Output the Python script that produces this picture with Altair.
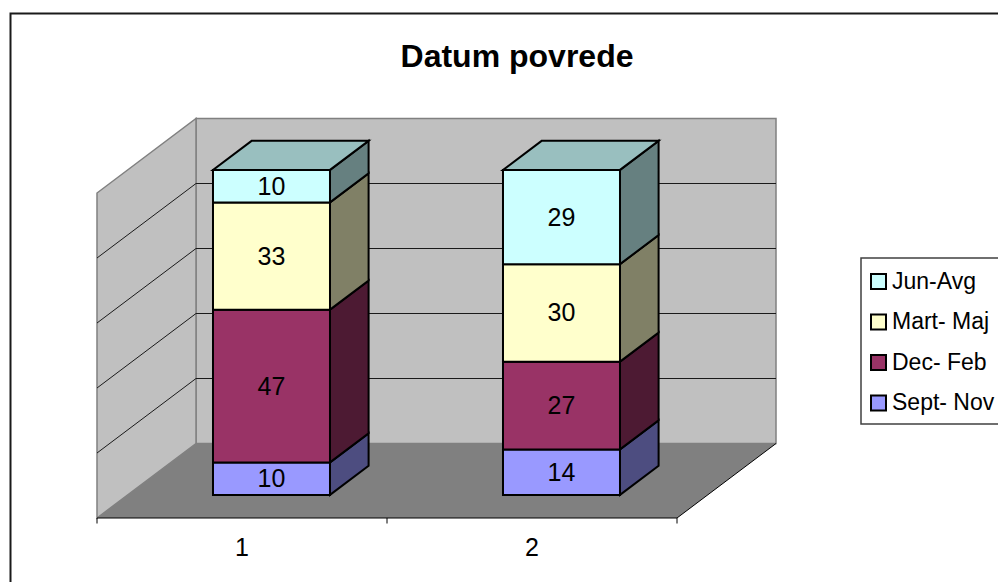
import altair as alt
import pandas as pd

# ---- data ----
categories = ["1", "2"]
series = ["Sept- Nov", "Dec- Feb", "Mart- Maj", "Jun-Avg"]
values = {
    "Sept- Nov": [10, 14],
    "Dec- Feb": [47, 27],
    "Mart- Maj": [33, 30],
    "Jun-Avg": [10, 29],
}
front_colors = {"Sept- Nov": "#9999FF", "Dec- Feb": "#993366", "Mart- Maj": "#FFFFCC", "Jun-Avg": "#CCFFFF"}
side_colors = {"Sept- Nov": "#4D4D80", "Dec- Feb": "#4D1A33", "Mart- Maj": "#808066", "Jun-Avg": "#668080"}
top_color = "#99BFBF"
grid_values = [20, 40, 60, 80]

FONT = "Liberation Sans"
W, H = 990, 574
PX_CAT = 290.0       # pixels per category
PX_VAL = 3.25        # pixels per value unit
DEPTH_X = 99 / PX_CAT   # full depth in category units
DEPTH_Y = 74.5 / PX_VAL # full depth in value units
HALF = 58.5 / PX_CAT    # half bar width in category units
D0, D1 = 0.31, 0.70     # bar depth range
BAR_SHIFT = -1.2 / PX_CAT


def X(c, d=0.0):
    return c + d * DEPTH_X


def Y(v, d=0.0):
    return v + d * DEPTH_Y


xs = alt.Scale(domain=[-89 / PX_CAT, (W - 89) / PX_CAT], range=[0, W], nice=False, zero=False)
ys = alt.Scale(domain=[(510 - H) / PX_VAL, 510 / PX_VAL], range=[H, 0], nice=False, zero=False)
ex = alt.X("x:Q", scale=xs, axis=None, title=None)
ey = alt.Y("y:Q", scale=ys, axis=None, title=None)


def rules(rows, color, width):
    return alt.Chart(pd.DataFrame(rows)).mark_rule(color=color, strokeWidth=width).encode(
        x=ex, x2="x2:Q", y=ey, y2="y2:Q", detail="id:N")


def line(i, x, y, x2, y2):
    return {"id": i, "x": x, "y": y, "x2": x2, "y2": y2}


# walls and floor
back = alt.Chart(pd.DataFrame([{"x": X(0, 1), "x2": X(2, 1), "y": Y(0, 1), "y2": Y(100, 1)}])).mark_rect(
    fill="#C0C0C0", stroke="#808080", strokeWidth=1.5).encode(x=ex, x2="x2:Q", y=ey, y2="y2:Q")
left = alt.Chart(pd.DataFrame([
    {"x": X(0, 0), "y": Y(0, 0), "y2": Y(100, 0)},
    {"x": X(0, 1), "y": Y(0, 1), "y2": Y(100, 1)},
])).mark_area(fill="#C0C0C0", stroke="#808080", strokeWidth=1.5).encode(x=ex, y=ey, y2="y2:Q")
floor = alt.Chart(pd.DataFrame([
    {"y": Y(0, 0), "x": X(0, 0), "x2": X(2, 0)},
    {"y": Y(0, 1), "x": X(0, 1), "x2": X(2, 1)},
])).mark_area(fill="#808080", orient="horizontal").encode(x=ex, x2="x2:Q", y=ey)

grid = rules(
    [line(f"b{v}", X(0, 1), Y(v, 1), X(2, 1), Y(v, 1)) for v in grid_values]
    + [line(f"l{v}", X(0, 0), Y(v, 0), X(0, 1), Y(v, 1)) for v in grid_values],
    "#1A1A1A", 1)

# axis drawn on the front edge of the floor
axis_rules = rules(
    [line("axis", X(0), Y(0), X(2), Y(0)), line("edge", X(2), Y(0), X(2, 1), Y(0, 1))]
    + [line(f"t{c}", X(c), Y(0), X(c), Y(-5.5 / PX_VAL)) for c in [0, 1, 2]],
    "#000000", 1)
axis_text = alt.Chart(pd.DataFrame({
    "x": [i + 0.5 for i in range(len(categories))],
    "y": [-30 / PX_VAL] * len(categories),
    "t": categories,
})).mark_text(font=FONT, fontSize=25, color="black", baseline="middle").encode(x=ex, y=ey, text="t:N")

# bars
front_rows, side_rows, top_rows, label_rows = [], [], [], []
for i in range(len(categories)):
    c = i + 0.5 + BAR_SHIFT
    base = 0
    for s in series:
        v = values[s][i]
        xl, xr = c - HALF, c + HALF
        front_rows.append({"series": s, "x": X(xl, D0), "x2": X(xr, D0), "y": Y(base, D0), "y2": Y(base + v, D0)})
        fid = f"{i}-{s}"
        side_rows.append({"id": fid, "fill": side_colors[s], "x": X(xr, D0), "y": Y(base, D0), "y2": Y(base + v, D0)})
        side_rows.append({"id": fid, "fill": side_colors[s], "x": X(xr, D1), "y": Y(base, D1), "y2": Y(base + v, D1)})
        label_rows.append({"x": X(c, D0), "y": Y(base + v / 2, D0), "t": str(v)})
        base += v
    top_rows.append({"id": str(i), "y": Y(base, D0), "x": X(c - HALF, D0), "x2": X(c + HALF, D0)})
    top_rows.append({"id": str(i), "y": Y(base, D1), "x": X(c - HALF, D1), "x2": X(c + HALF, D1)})

sides = alt.Chart(pd.DataFrame(side_rows)).mark_area(stroke="black", strokeWidth=2).encode(
    x=ex, y=ey, y2="y2:Q", fill=alt.Fill("fill:N", scale=None, legend=None), detail="id:N")
tops = alt.Chart(pd.DataFrame(top_rows)).mark_area(
    fill=top_color, stroke="black", strokeWidth=2, orient="horizontal").encode(
    x=ex, x2="x2:Q", y=ey, detail="id:N")

legend_order = list(reversed(series))
fronts = alt.Chart(pd.DataFrame(front_rows)).mark_rect(stroke="black", strokeWidth=2).encode(
    x=ex, x2="x2:Q", y=ey, y2="y2:Q",
    color=alt.Color("series:N",
                    scale=alt.Scale(domain=legend_order, range=[front_colors[s] for s in legend_order]),
                    legend=alt.Legend(
                        title=None, orient="none", legendX=849, legendY=252, padding=10,
                        symbolType="square", symbolSize=225, symbolStrokeColor="black",
                        symbolStrokeWidth=2, labelFont=FONT, labelFontSize=23, labelColor="black",
                        labelOffset=2, rowPadding=16.5, labelLimit=300, symbolOpacity=1,
                    )))
labels = alt.Chart(pd.DataFrame(label_rows)).mark_text(
    font=FONT, fontSize=25, color="black", baseline="middle", dy=0.5).encode(x=ex, y=ey, text="t:N")

# chart frame and legend frame (they run off the page, as in the picture)
frame = alt.Chart(pd.DataFrame({"a": [0]})).mark_rect(
    fill="white", stroke="#1A1A1A", strokeWidth=2).encode(
    x=alt.value(2.5), x2=alt.value(1100), y=alt.value(5.5), y2=alt.value(700))
legend_frame = alt.Chart(pd.DataFrame({"a": [0]})).mark_rect(
    fill="white", stroke="#404040", strokeWidth=1.5).encode(
    x=alt.value(853), x2=alt.value(1100), y=alt.value(250), y2=alt.value(416))

chart = alt.layer(
    frame, legend_frame, back, left, floor, grid, axis_rules, axis_text, sides, tops, fronts, labels
).properties(
    width=W, height=H, padding=0, autosize=alt.AutoSizeParams(type="none"),
    title=alt.TitleParams("Datum povrede", font=FONT, fontSize=32, fontWeight="bold", color="black",
                          anchor="middle", frame="group", dx=14, offset=-66),
).configure_view(stroke=None).resolve_scale(color="independent")

chart.save("out.html", embed_options={"renderer": "svg", "actions": False})
